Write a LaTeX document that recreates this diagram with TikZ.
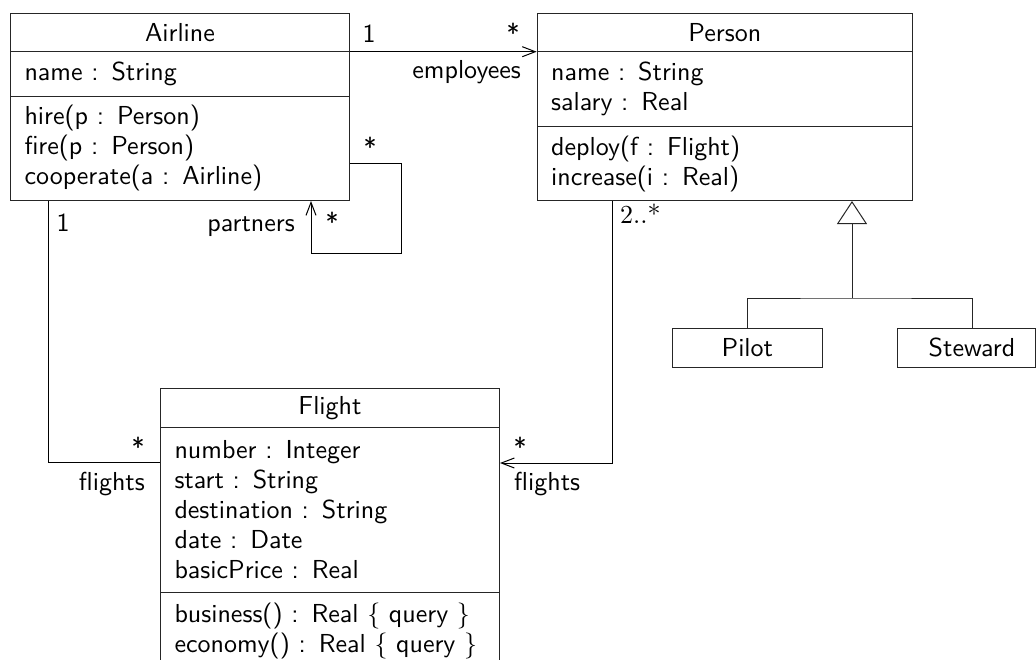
\documentclass[tikz,border=0pt]{standalone}
\usepackage{fontspec}
\setmainfont{lmroman10-regular.otf}
\setsansfont{lmsans10-regular.otf}
\usetikzlibrary{arrows.meta}
\newcommand{\lbr}{{\rmfamily\{}}
\newcommand{\rbr}{{\rmfamily\}}}
\begin{document}
\begin{tikzpicture}[x=1pt,y=-1pt,
  font=\fontsize{26}{30}\selectfont\sffamily,
  comp/.style={draw=black!85, line width=1pt, anchor=north west, inner xsep=14pt, inner ysep=0pt, align=left},
  ctitle/.style={draw=black!85, line width=1pt, anchor=north west, inner xsep=14pt, inner ysep=0pt, align=center},
  lab/.style={inner sep=0pt},
  conn/.style={line width=1pt, black},
  nav/.style={conn, -{Straight Barb[length=13pt,width=10pt,line width=1pt]}},
  gen/.style={line width=1pt, black!85, -{Triangle[open,length=23pt,width=30pt,line width=1pt]}}
]
\useasboundingbox (0,0) rectangle (1036,659);
\clip (0,0) rectangle (1036,659);

% Airline
\node[ctitle, text width=311pt, minimum height=38pt] (airlineT) at (10,12.7) {Airline};
\node[comp, text width=311pt, minimum height=45pt] (airlineA) at (10,50.7) {name : String};
\node[comp, text width=311pt, minimum height=104.3pt] (airlineM) at (10,95.7)
  {hire(p : Person)\\fire(p : Person)\\cooperate(a : Airline)};

% Person
\node[ctitle, text width=347.3pt, minimum height=38pt] (personT) at (536.7,12.7) {Person};
\node[comp, text width=347.3pt, minimum height=75.3pt] (personA) at (536.7,50.7) {name : String\\salary : Real};
\node[comp, text width=347.3pt, minimum height=74pt] (personM) at (536.7,126) {deploy(f : Flight)\\increase(i : Real)};

% Flight
\node[ctitle, text width=311pt, minimum height=38.7pt] (flightT) at (160,388) {Flight};
\node[comp, text width=311pt, minimum height=165pt] (flightA) at (160,426.7)
  {number : Integer\\start : String\\destination : String\\date : Date\\basicPrice : Real};
\node[comp, text width=311pt, minimum height=77pt] (flightM) at (160,591.7)
  {business() : Real \lbr{} query \rbr\\economy() : Real \lbr{} query \rbr};

% Pilot, Steward
\node[ctitle, text width=122.3pt, minimum height=38.7pt] (pilot) at (671.7,328) {Pilot};
\node[draw=black!85, line width=1pt, anchor=north west, inner sep=0pt, minimum width=137.5pt, minimum height=38.7pt] (steward) at (897,328) {};
\node[lab] (stewardtxt) at (972,347.3) {Steward};

% Associations
\draw[nav] (airlineT.south east) -- (personT.south west);
\node[lab, anchor=base] (m1) at (369,42) {1};
\node[lab, anchor=base] (m2) at (513,42) {*};
\node[lab, anchor=base east] (rEmp) at (521,78) {employees};

\coordinate (loopTR) at (401,163);
\coordinate (loopBL) at (311,253);
\draw[nav] (airlineM.east |- loopTR) -- (loopTR) |- (loopBL) -- (loopBL |- airlineM.south);
\node[lab, anchor=base] (m3) at (370,156) {*};
\node[lab, anchor=base] (m4) at (332,231) {*};
\node[lab, anchor=base east] (rPart) at (295,231) {partners};

\coordinate (af) at (48,462);
\draw[conn] (af |- airlineM.south) |- (flightA.west |- af);
\node[lab, anchor=base] (m5) at (63,231) {1};
\node[lab, anchor=base] (m6) at (138,456) {*};
\node[lab, anchor=base east] (rFl1) at (145,490) {flights};

\coordinate (pf) at (612,463);
\draw[nav] (pf |- personM.south) |- (flightA.east |- pf);
\node[lab, anchor=base west] (m7) at (620,223) {\rmfamily 2..*};
\node[lab, anchor=base] (m8) at (520,456) {*};
\node[lab, anchor=base west] (rFl2) at (514,490) {flights};

% Generalization
\coordinate (genJ) at (852,298);
\draw[line width=1pt, black!85] (pilot.north) |- (genJ) -| (stewardtxt |- steward.north);
\draw[gen] (genJ) -- (genJ |- personM.south);
\end{tikzpicture}
\end{document}
